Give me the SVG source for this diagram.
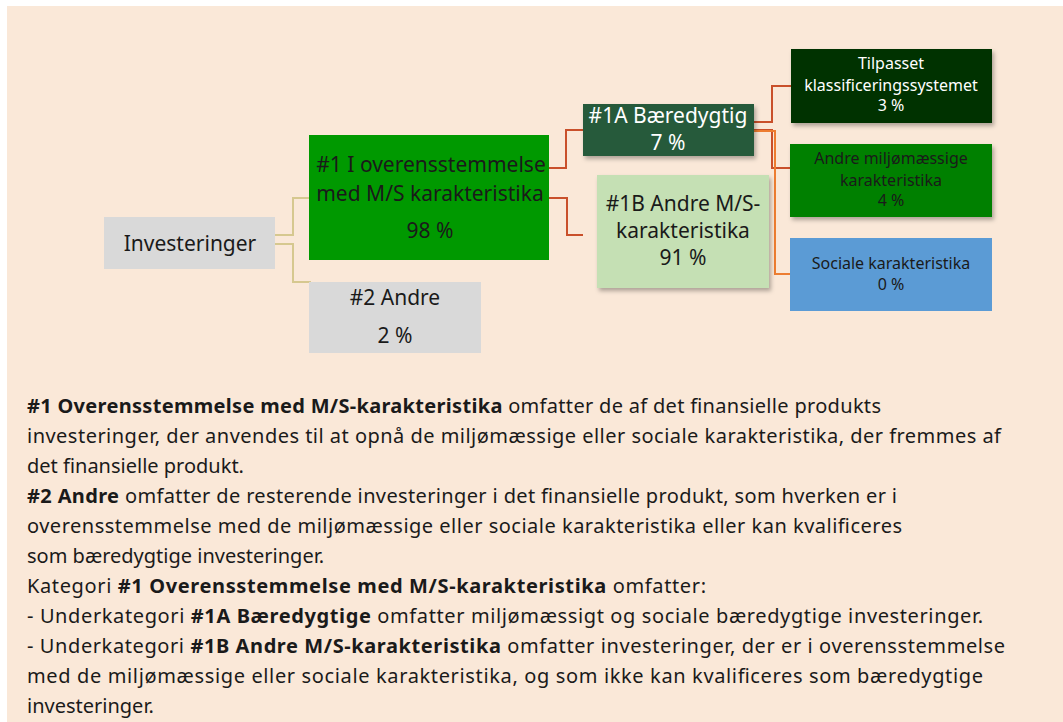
<svg xmlns="http://www.w3.org/2000/svg" width="1063" height="722" viewBox="0 0 1063 722">
<defs>
<filter id="sh" x="-10%" y="-10%" width="130%" height="140%">
<feDropShadow dx="2" dy="3" stdDeviation="2" flood-color="#000" flood-opacity="0.3"/>
</filter>
<style>
text{font-family:"Noto Sans","Open Sans",sans-serif;fill:#1a1a1a}
.n{font-size:21px;text-anchor:middle}
.s{font-size:16px;text-anchor:middle}
.w{fill:#fff}
.p{font-size:20px}
.b{font-weight:bold}
.tan{fill:none;stroke:#D6C88F;stroke-width:2}
.red{fill:none;stroke:#C9502B;stroke-width:2}
.org{fill:none;stroke:#ED7D31;stroke-width:2}
</style>
</defs>
<rect x="0" y="0" width="1063" height="722" fill="#fff"/>
<rect x="7" y="6" width="1056" height="716" fill="#FAE8D8"/>
<g id="connectors">
<polyline class="tan" points="275,235 293,235 293,198 309,198"/>
<polyline class="tan" points="275,244 293,244 293,282 311,282"/>
<polyline class="red" points="549,168 566,168 566,130 583,130"/>
<polyline class="red" points="549,198 567,198 567,235 583,235"/>
<polyline class="red" points="754,122 772,122 772,86 791,86"/>
<polyline class="red" points="754,130 772,130 772,168 790,168"/>
<polyline class="org" points="754,131 775,131 775,274 790,274"/>
</g>
<g id="investeringer">
<rect x="104" y="217" width="171" height="52" fill="#D9D9D9"/>
<text class="n" x="190" y="251">Investeringer</text>
</g>
<g id="n1">
<rect x="309" y="135" width="240" height="125" fill="#009900"/>
<text class="n" x="431" y="172">#1 I overensstemmelse</text>
<text class="n" x="430" y="201">med M/S karakteristika</text>
<text class="n" x="430" y="238">98 %</text>
</g>
<g id="n2">
<rect x="309" y="282" width="172" height="71" fill="#D9D9D9"/>
<text class="n" x="395" y="305">#2 Andre</text>
<text class="n" x="395" y="343">2 %</text>
</g>
<g id="n1a">
<rect x="583" y="104" width="171" height="52" fill="#275A3B" filter="url(#sh)"/>
<text class="n w" x="668" y="123">#1A Bæredygtig</text>
<text class="n w" x="668" y="150">7 %</text>
</g>
<g id="n1b">
<rect x="597" y="175" width="172" height="113" fill="#C5E0B4" filter="url(#sh)"/>
<text class="n" x="683" y="211">#1B Andre M/S-</text>
<text class="n" x="683" y="238">karakteristika</text>
<text class="n" x="683" y="265">91 %</text>
</g>
<g id="tilpasset">
<rect x="791" y="49" width="201" height="74" fill="#003300" filter="url(#sh)"/>
<text class="s w" x="891" y="69">Tilpasset</text>
<text class="s w" x="891" y="91">klassificeringssystemet</text>
<text class="s w" x="891" y="111">3 %</text>
</g>
<g id="andre-miljo">
<rect x="790" y="144" width="202" height="73" fill="#008000" filter="url(#sh)"/>
<text class="s" x="891" y="164">Andre miljømæssige</text>
<text class="s" x="891" y="186">karakteristika</text>
<text class="s" x="891" y="206">4 %</text>
</g>
<g id="sociale">
<rect x="790" y="238" width="202" height="73" fill="#5B9BD5"/>
<text class="s" x="891" y="269">Sociale karakteristika</text>
<text class="s" x="891" y="290">0 %</text>
</g>
<g id="description">
<text class="p" x="27" y="413" textLength="854" lengthAdjust="spacing"><tspan class="b">#1 Overensstemmelse med M/S-karakteristika</tspan> omfatter de af det finansielle produkts</text>
<text class="p" x="27" y="443" textLength="974" lengthAdjust="spacing">investeringer, der anvendes til at opnå de miljømæssige eller sociale karakteristika, der fremmes af</text>
<text class="p" x="27" y="473">det finansielle produkt.</text>
<text class="p" x="27" y="503" textLength="870" lengthAdjust="spacing"><tspan class="b">#2 Andre</tspan> omfatter de resterende investeringer i det finansielle produkt, som hverken er i</text>
<text class="p" x="27" y="533" textLength="875" lengthAdjust="spacing">overensstemmelse med de miljømæssige eller sociale karakteristika eller kan kvalificeres</text>
<text class="p" x="27" y="563">som bæredygtige investeringer.</text>
<text class="p" x="27" y="593" textLength="679" lengthAdjust="spacing">Kategori <tspan class="b">#1 Overensstemmelse med M/S-karakteristika</tspan> omfatter:</text>
<text class="p" x="27" y="623" textLength="956" lengthAdjust="spacing">- Underkategori <tspan class="b">#1A Bæredygtige</tspan> omfatter miljømæssigt og sociale bæredygtige investeringer.</text>
<text class="p" x="27" y="653" textLength="978" lengthAdjust="spacing">- Underkategori <tspan class="b">#1B Andre M/S-karakteristika</tspan> omfatter investeringer, der er i overensstemmelse</text>
<text class="p" x="27" y="683" textLength="956" lengthAdjust="spacing">med de miljømæssige eller sociale karakteristika, og som ikke kan kvalificeres som bæredygtige</text>
<text class="p" x="27" y="713">investeringer.</text>
</g>
</svg>
